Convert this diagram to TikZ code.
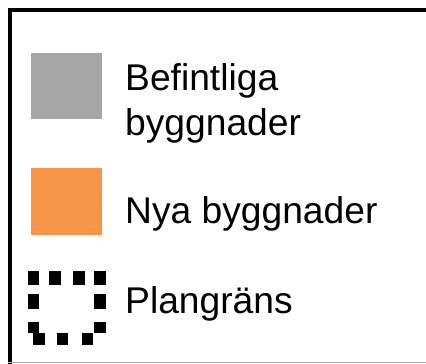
\documentclass[tikz,border=0pt]{standalone}
\usepackage{fontspec}
\setmainfont{Liberation Sans}
\definecolor{oldgray}{HTML}{A6A6A6}
\definecolor{neworange}{HTML}{F79646}
\tikzset{
  lbl/.style={anchor=base west, inner sep=0pt, font=\fontsize{37.2}{45}\selectfont, align=left},
  swatch/.style={draw=none},
  dot/.style={fill=black, draw=none}
}
\begin{document}
\begin{tikzpicture}[x=1pt,y=-1pt]
\useasboundingbox (0,0) rectangle (426,364);
\fill[white] (0,0) rectangle (426,364);
% frame
\draw[line width=4pt] (10.3,440) -- (10.3,10.2) -- (440,10.2);
\draw[line width=1pt, gray!60] (8,362.5) -- (440,362.5);
% swatches
\fill[oldgray] (31,53) rectangle (102,119);
\fill[neworange] (31,168) rectangle (102,235);
% dotted boundary
\foreach \a/\b/\c/\d in {28/271/39/285, 49/271/61/285, 73/271/85/285, 94/271/106/285,
  28/294/39/309, 94/294/106/309, 28/322/39/333, 33/333/45/345,
  57/333/68/345, 82/333/93/345, 94/322/106/333}
  \fill[black] (\a,\b) rectangle (\c,\d);
% labels
\node[lbl] (t1) at (125,90) {Befintliga};
\node[lbl] (t2) at (125,135) {byggnader};
\node[lbl] (t3) at (125,223) {Nya byggnader};
\node[lbl] (t4) at (125,313) {Plangräns};
\end{tikzpicture}
\end{document}
